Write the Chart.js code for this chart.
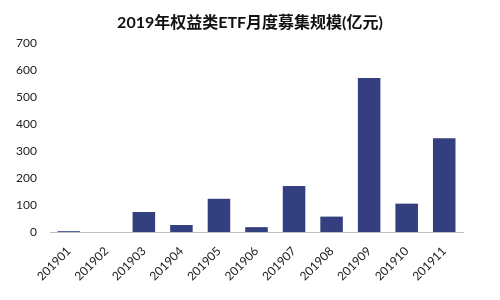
<!DOCTYPE html>
<html>
<head>
<meta charset="utf-8">
<script src="https://cdn.jsdelivr.net/npm/chart.js@4/dist/chart.umd.min.js"></script>
<style>
html,body{margin:0;padding:0;background:#fff;}
#wrap{width:500px;height:300px;position:relative;}
</style>
</head>
<body>
<div id="wrap"><canvas id="c" width="500" height="300"></canvas></div>
<script>
const categories = ["201901","201902","201903","201904","201905","201906","201907","201908","201909","201910","201911"];
const values = [3, 0, 74, 26, 123, 18, 170, 57, 570, 105, 347];
const yTicks = [0, 100, 200, 300, 400, 500, 600, 700];
const titleText = "2019年权益类ETF月度募集规模(亿元)";

const FONT = "Lato, 'Noto Sans CJK SC', sans-serif";

new Chart(document.getElementById('c'), {
  type: 'bar',
  data: {
    labels: categories,
    datasets: [{
      data: values,
      backgroundColor: '#333f7e',
      categoryPercentage: 0.6,
      barPercentage: 1.0
    }]
  },
  options: {
    responsive: false,
    animation: false,
    layout: { padding: 0 },
    plugins: {
      legend: { display: false },
      tooltip: { enabled: false },
      title: {
        display: true,
        text: titleText,
        color: '#111',
        font: { family: FONT, size: 16, weight: 'bold', lineHeight: 1.2 },
        padding: { top: 13, bottom: 10.8 }
      }
    },
    scales: {
      x: {
        grid: { display: false, drawTicks: false },
        border: { display: true, color: '#bfbfbf', width: 1 },
        ticks: {
          color: '#222',
          font: { family: FONT, size: 12 },
          minRotation: 45,
          maxRotation: 45,
          padding: 12
        },
        afterFit: s => { s.height = 68; }
      },
      y: {
        min: 0,
        max: 700,
        grid: { display: false, drawTicks: false },
        border: { display: false },
        afterBuildTicks: s => { s.ticks = yTicks.map(v => ({ value: v })); },
        ticks: {
          color: '#222',
          font: { family: FONT, size: 12 },
          padding: 13
        },
        afterFit: s => { s.width = 50; }
      },
      yRight: {
        position: 'right',
        display: true,
        grid: { display: false, drawTicks: false },
        border: { display: false },
        ticks: { display: false },
        afterFit: s => { s.width = 37; }
      }
    }
  }
});
</script>
</body>
</html>
